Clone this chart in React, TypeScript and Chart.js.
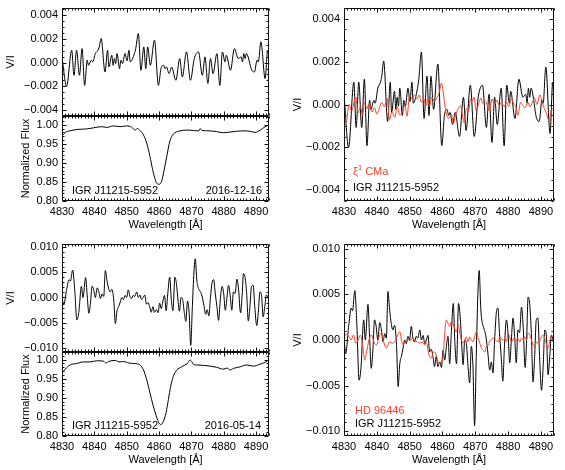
import React, { useEffect, useRef } from "react";
import { Chart, registerables } from "chart.js";
Chart.register(...registerables);

const W = 565;
const H = 470;
const FONT = '"Liberation Sans", Arial, Helvetica, sans-serif';
const FS = 11;
const RED = "#f2452f";
const BLACK = "#000000";

// ---------- axes ----------
const X_MIN = 4830;
const X_MAX = 4894;
const X_MINOR = 1;
const X_TICKS = [4830, 4840, 4850, 4860, 4870, 4880, 4890];
const VI_TOP_TICKS = [-0.004, -0.002, 0, 0.002, 0.004];
const VI_BOT_TICKS = [-0.01, -0.005, 0, 0.005, 0.01];
const FLUX_TICKS = [0.8, 0.85, 0.9, 0.95, 1.0];

// ---------- IGR J11215-5952, 2016-12-16, V/I ----------
const WL_V_1216 = [
  4830.0, 4831.4, 4833.0, 4833.7, 4834.5, 4835.4, 4836.2, 4837.0, 4837.8, 4838.2,
  4839.1, 4839.5, 4840.3, 4841.1, 4841.5, 4842.1, 4843.3, 4844.1, 4844.5, 4845.4,
  4845.8, 4846.2, 4846.6, 4847.0, 4847.8, 4848.2, 4848.7, 4849.5, 4850.1, 4850.7,
  4851.1, 4852.4, 4852.8, 4853.6, 4854.4, 4855.3, 4855.9, 4856.5, 4857.3, 4858.6,
  4859.8, 4860.6, 4861.4, 4861.9, 4862.3, 4863.1, 4863.9, 4865.2, 4866.4, 4867.2,
  4868.5, 4869.7, 4870.9, 4872.2, 4873.4, 4874.2, 4875.1, 4875.9, 4876.7, 4877.9,
  4878.8, 4879.6, 4880.4, 4880.8, 4882.1, 4883.3, 4884.5, 4885.4, 4885.8, 4886.2,
  4886.6, 4887.0, 4888.7, 4889.5, 4890.3, 4890.7, 4891.5, 4892.8, 4893.6, 4894.1,
];
const V_1216 = [
  0.00048, -0.002, 0.00104, -0.00107, 0.00104, -0.00107, 0.00118, -0.00192, 0.0002, -0.00023,
  0.0002, 0.00006, 0.00076, 0.00104, 0.0013, 0.00203, -0.00079, 0.00104, -0.00037, 0.00062,
  -0.00023, 0.00034, -0.00008, 0.00076, -0.00051, 0.0002, -0.00008, 0.00076, 0.00014, 0.00104,
  0.00006, 0.00076, 0.00118, 0.00245, -0.00065, 0.00132, -0.00051, 0.00132, -0.00023, 0.00189,
  -0.00192, -0.00051, -0.00023, -0.00051, -0.00037, -0.00093, -0.00037, -0.00149, 0.00034, -0.00121,
  0.0009, -0.00149, 0.00034, 0.0009, -0.00107, 0.00048, -0.00177, 0.00034, -0.00093, 0.00076,
  -0.00192, 0.0009, 0.00006, 0.00062, -0.00065, 0.00118, 0.00034, 0.00048, 0.00006, 0.00076,
  0.00034, 0.00076, -0.00065, -0.00079, 0.0002, 0.00006, 0.00175, -0.00135, 0.00104, 0.00006,
];

// ---------- xi1 CMa, V/I ----------
const WL_XI1CMA = [
  4830.0, 4830.7, 4831.5, 4832.3, 4833.6, 4834.3, 4835.0, 4835.6, 4836.3, 4837.0,
  4837.7, 4838.5, 4839.3, 4840.0, 4840.7, 4841.5, 4842.3, 4843.1, 4843.9, 4844.6,
  4845.5, 4846.2, 4847.0, 4847.8, 4848.6, 4849.2, 4850.0, 4850.8, 4851.5, 4852.2,
  4852.9, 4853.6, 4854.3, 4855.0, 4855.5, 4856.0, 4856.8, 4857.5, 4858.3, 4859.0,
  4859.7, 4860.3, 4860.8, 4861.3, 4862.0, 4862.7, 4863.3, 4864.0, 4864.8, 4865.5,
  4866.0, 4866.6, 4867.3, 4868.0, 4868.5, 4869.0, 4869.6, 4870.3, 4871.0, 4871.7,
  4872.3, 4873.0, 4873.7, 4874.4, 4875.1, 4875.9, 4876.6, 4877.3, 4878.0, 4878.8,
  4879.5, 4880.2, 4881.0, 4881.8, 4882.4, 4883.0, 4883.8, 4884.5, 4885.2, 4886.0,
  4886.7, 4887.4, 4888.1, 4888.8, 4889.7, 4890.4, 4891.1, 4891.9, 4892.5, 4893.2,
  4894.0,
];
const V_XI1CMA = [
  -0.0004, -0.0008, 0.0, -0.0003, 0.00035, -0.0004, -0.0001, -0.0005, 0.0001, -0.0002,
  0.00005, -0.00035, -0.00015, -0.00045, -0.0002, 0.0001, -0.0001, 0.0003, -0.0007, -0.00035,
  -0.0006, -0.0001, -0.0005, -0.00035, -0.00005, -0.00055, 0.00045, 0.00025, 0.00045, 0.00025,
  0.00045, 0.0001, 0.00025, -0.00005, 0.00025, -0.00005, 0.00035, 0.00015, 0.0003, 0.00055,
  0.001, 0.0005, -0.0001, -0.0005, -0.00065, -0.00045, -0.0009, -0.0005, -0.0002, -0.00005,
  -0.0004, -0.00085, -0.0002, -0.0003, 0.00025, 0.00015, 0.00035, -0.0003, 0.0, 0.0003,
  0.00005, 0.00015, -0.00005, -0.0003, 0.00025, 0.0, 0.0002, -0.00005, 0.0001, -0.0001,
  0.0001, -0.0001, 0.00025, 0.0, -0.0001, -0.0005, 0.0001, -0.00005, -0.00015, 0.0001,
  -0.0001, 0.0001, 0.0003, 0.0, 0.00045, 0.0001, -0.0002, -0.0005, -0.0008, -0.00025,
  -0.0002,
];

// ---------- IGR J11215-5952, 2016-05-14, V/I ----------
const WL_V_0514 = [
  4830.0, 4830.5, 4831.5, 4832.2, 4832.6, 4833.3, 4833.9, 4834.6, 4835.2, 4836.0,
  4836.5, 4837.3, 4837.8, 4838.3, 4838.8, 4839.3, 4839.8, 4840.3, 4840.9, 4841.4,
  4841.9, 4842.4, 4842.9, 4843.4, 4843.9, 4844.4, 4844.9, 4845.4, 4846.0, 4846.5,
  4847.0, 4847.5, 4848.0, 4848.5, 4849.0, 4849.5, 4850.0, 4850.5, 4851.0, 4851.5,
  4852.0, 4852.5, 4853.1, 4853.6, 4854.1, 4854.6, 4855.1, 4855.6, 4856.1, 4856.6,
  4857.1, 4857.6, 4858.1, 4858.6, 4859.2, 4859.7, 4860.2, 4860.7, 4861.2, 4861.7,
  4862.2, 4862.7, 4863.3, 4863.8, 4864.3, 4864.9, 4865.4, 4865.9, 4866.3, 4866.8,
  4867.3, 4867.8, 4868.3, 4868.8, 4869.3, 4869.8, 4870.3, 4870.8, 4871.2, 4871.7,
  4872.2, 4872.7, 4873.2, 4873.9, 4874.4, 4874.9, 4875.4, 4875.9, 4876.4, 4876.9,
  4877.4, 4877.9, 4878.4, 4878.9, 4879.5, 4880.0, 4880.5, 4881.0, 4881.5, 4882.0,
  4882.5, 4883.0, 4883.5, 4884.1, 4884.6, 4885.2, 4885.7, 4886.1, 4886.6, 4887.1,
  4887.6, 4888.1, 4888.6, 4889.1, 4889.6, 4890.2, 4890.7, 4891.2, 4891.7, 4892.2,
  4892.7, 4893.2, 4893.7, 4894.0,
];
const V_0514 = [
  0.0003, -0.0015, 0.0018, 0.0035, 0.0032, 0.0054, 0.0018, -0.0044, -0.0029, 0.0022,
  0.0, 0.0039, 0.0003, -0.0031, -0.0011, 0.0022, 0.0015, 0.0, 0.0019, 0.0011,
  -0.0002, 0.0007, 0.0002, 0.0053, 0.0033, 0.0018, 0.0011, 0.0016, -0.0005, -0.0051,
  -0.0026, -0.0018, -0.0009, 0.0, -0.0004, 0.0004, 0.0, 0.0015, 0.0002, -0.0002,
  0.0004, 0.0002, 0.0011, 0.0, 0.0005, -0.0004, 0.0, 0.0005, -0.0013, -0.001,
  -0.0018, -0.0029, -0.0018, -0.0029, -0.0024, -0.003, -0.0011, -0.0022, -0.0007, 0.0004,
  -0.0026, 0.0007, 0.004, -0.0004, -0.0026, 0.004, 0.0026, -0.0007, -0.0027, 0.0,
  -0.0004, -0.0029, -0.0047, -0.0007, -0.0029, -0.0094, -0.0018, 0.005, 0.0076, 0.0033,
  0.0018, 0.0012, 0.0005, -0.0016, -0.0033, -0.0024, -0.0036, 0.0, 0.0029, 0.0035,
  0.0007, -0.0018, -0.0045, -0.0007, 0.0022, 0.0007, -0.0025, 0.0, 0.0024, 0.0004,
  -0.0025, 0.0011, 0.0008, 0.0036, 0.0015, -0.003, 0.0005, 0.0047, 0.0039, 0.0007,
  -0.0046, -0.0018, 0.0022, 0.0024, -0.0018, -0.0055, -0.0029, 0.0011, 0.0004, -0.0038,
  -0.0018, 0.0005, 0.0, -0.0007,
];

// ---------- HD 96446, V/I ----------
const WL_HD96446 = [
  4830.0, 4830.7, 4831.5, 4832.2, 4832.9, 4833.6, 4834.3, 4835.0, 4835.8, 4836.3,
  4836.8, 4837.6, 4838.3, 4839.3, 4839.9, 4840.7, 4841.4, 4842.1, 4842.9, 4843.9,
  4844.7, 4845.4, 4846.2, 4847.0, 4847.5, 4848.0, 4848.8, 4849.5, 4850.1, 4850.8,
  4851.5, 4852.3, 4853.1, 4853.8, 4854.6, 4855.1, 4855.9, 4856.6, 4857.1, 4857.6,
  4858.2, 4858.7, 4859.2, 4859.7, 4860.2, 4860.7, 4861.2, 4861.7, 4862.2, 4862.7,
  4863.2, 4863.7, 4864.2, 4864.8, 4865.3, 4865.8, 4866.3, 4866.8, 4867.3, 4867.8,
  4868.3, 4868.8, 4869.3, 4869.8, 4870.3, 4870.9, 4871.4, 4871.9, 4872.4, 4872.9,
  4873.4, 4873.9, 4874.4, 4875.4, 4876.2, 4877.0, 4877.5, 4878.3, 4879.0, 4879.5,
  4880.0, 4880.5, 4881.0, 4881.8, 4882.5, 4883.0, 4883.6, 4884.1, 4884.6, 4885.1,
  4885.6, 4886.1, 4886.6, 4887.1, 4888.1, 4888.7, 4889.2, 4890.2, 4890.7, 4891.3,
  4892.2, 4892.7, 4893.2, 4894.0,
];
const V_HD96446 = [
  0.0002, 0.00065, 0.00035, 0.0, 0.00055, -0.00035, 0.0, 0.00055, -0.0009, -0.0022,
  -0.00145, 0.0, 0.00055, -0.00035, -0.00055, 0.00035, 0.00075, -0.0002, -0.0009, -0.0002,
  -0.00035, -0.0002, 0.00035, 0.0009, 0.0, -0.00055, 0.0, 0.0001, -0.0001, 0.0002,
  -0.00005, -0.0002, -0.00035, -0.00025, -0.00055, -0.0003, -0.00165, -0.002, -0.00145, -0.0013,
  -0.0018, -0.00235, -0.00255, -0.00235, -0.0018, 0.00075, 0.0022, 0.0018, 0.00145, 0.002,
  0.0018, 0.0013, 0.0009, 0.00165, 0.00075, 0.0, -0.00035, 0.0, 0.00035, -0.0002,
  0.00035, 0.0, -0.0002, 0.00035, 0.0009, 0.0002, -0.00035, -0.0009, -0.0011, -0.0013,
  -0.00075, -0.00055, -0.0002, 0.0002, 0.0, -0.0002, 0.00035, 0.0, 0.0002, -0.0002,
  0.00075, 0.00035, -0.0002, 0.0002, -0.0001, 0.0002, -0.0002, 0.0002, 0.0, 0.00035,
  0.0, 0.00075, 0.00055, 0.0, -0.00075, -0.0002, -0.00035, 0.00035, 0.00055, 0.0,
  -0.0009, -0.0002, 0.00055, 0.0002,
];

// ---------- Normalized flux ----------
const WL_F_1216 = [
  4830, 4831, 4832.5, 4835, 4837.6, 4839.7, 4842.3, 4843.8, 4845.9, 4848,
  4850, 4851.5, 4852.6, 4853.3, 4854.1, 4855.2, 4856.2, 4857.2, 4858.0, 4858.8,
  4859.3, 4860.1, 4860.8, 4861.5, 4862.4, 4863.2, 4863.9, 4864.9, 4866.5, 4868.6,
  4870.7, 4872.3, 4872.7, 4873.3, 4875.5, 4877.8, 4879.9, 4882, 4884, 4886,
  4888, 4889.7, 4891.3, 4892.8, 4894,
];
const F_1216 = [
  0.971, 0.98, 0.984, 0.988, 0.989, 0.992, 0.995, 0.993, 0.997, 0.995,
  0.997, 0.994, 0.986, 0.99, 0.985, 0.973, 0.952, 0.917, 0.883, 0.857,
  0.846, 0.844, 0.852, 0.878, 0.917, 0.952, 0.969, 0.979, 0.984, 0.986,
  0.985, 0.984, 0.99, 0.985, 0.984, 0.982, 0.979, 0.981, 0.983, 0.984,
  0.983, 0.98, 0.986, 0.995, 0.999,
];
const WL_F_0514 = [
  4830, 4831, 4832.5, 4834.6, 4836.6, 4838.7, 4840.7, 4842.8, 4843.6, 4844.4,
  4846.5, 4847.6, 4849.1, 4850.7, 4852.2, 4854.1, 4855.2, 4856.2, 4857.2, 4858.2,
  4859.1, 4859.8, 4860.5, 4861.3, 4862.2, 4862.9, 4863.6, 4864.4, 4865.5, 4867.0,
  4868.0, 4868.8, 4869.6, 4870.1, 4870.6, 4871.6, 4873.7, 4875.8, 4877.8, 4879.9,
  4881.0, 4882.0, 4883.0, 4885.0, 4887.1, 4889.2, 4891.2, 4892.8, 4894,
];
const F_0514 = [
  0.964, 0.975, 0.986, 0.99, 0.994, 0.994, 0.997, 0.996, 0.991, 0.995,
  0.998, 0.994, 0.995, 0.991, 0.99, 0.986, 0.973, 0.947, 0.913, 0.879,
  0.854, 0.837, 0.83, 0.837, 0.862, 0.896, 0.93, 0.956, 0.973, 0.981,
  0.986, 0.99, 0.999, 0.995, 0.988, 0.986, 0.985, 0.983, 0.98, 0.975,
  0.978, 0.973, 0.977, 0.981, 0.986, 0.983, 0.988, 0.993, 1.0,
];

// ---------- panel description ----------
type Series = { xs: number[]; ys: number[]; color: string };
type Part = { t: string; sup?: boolean };
type Label = { parts: Part[]; x: number; y: number; color: string; align: "left" | "right" };
type PanelCfg = {
  box: [number, number, number, number];
  yMin: number;
  yMax: number;
  yTicks: number[];
  yMinor: number;
  yDec: number;
  xLabels: boolean;
  yTitle: string;
  yTitleX: number;
  series: Series[];
  labels: Label[];
};

const MAJ = 4;
const MIN = 2;

function fmt(v: number, dec: number) {
  const s = Math.abs(v) < 1e-12 ? (0).toFixed(dec) : v.toFixed(dec);
  return s.replace("-", "\u2212");
}

function drawParts(ctx: CanvasRenderingContext2D, lab: Label) {
  const widths = lab.parts.map((p) => {
    ctx.font = `${p.sup ? 7.5 : FS}px ${FONT}`;
    return ctx.measureText(p.t).width;
  });
  const total = widths.reduce((a, b) => a + b, 0);
  let x = lab.align === "left" ? lab.x : lab.x - total;
  ctx.fillStyle = lab.color;
  ctx.textAlign = "left";
  ctx.textBaseline = "middle";
  lab.parts.forEach((p, i) => {
    ctx.font = `${p.sup ? 7.5 : FS}px ${FONT}`;
    ctx.fillText(p.t, x, lab.y + (p.sup ? -4 : 0));
    x += widths[i];
  });
}

function drawFrame(chart: any, cfg: PanelCfg) {
  const { ctx, chartArea: a } = chart;
  const xs = chart.scales.x;
  const ys = chart.scales.y;
  ctx.save();
  ctx.strokeStyle = "#111";
  ctx.lineWidth = 1;
  const L = Math.round(a.left) + 0.5;
  const R = Math.round(a.right) - 0.5;
  const T = Math.round(a.top) + 0.5;
  const B = Math.round(a.bottom) - 0.5;
  ctx.beginPath();
  ctx.rect(L, T, R - L, B - T);
  for (let v = X_MIN; v <= X_MAX + 1e-9; v += X_MINOR) {
    const px = Math.round(xs.getPixelForValue(v)) + 0.5;
    const len = X_TICKS.includes(v) ? MAJ : MIN;
    ctx.moveTo(px, B);
    ctx.lineTo(px, B - len);
    ctx.moveTo(px, T);
    ctx.lineTo(px, T + len);
  }
  const k0 = Math.ceil(cfg.yMin / cfg.yMinor - 1e-6);
  const k1 = Math.floor(cfg.yMax / cfg.yMinor + 1e-6);
  for (let k = k0; k <= k1; k++) {
    const v = k * cfg.yMinor;
    const py = Math.round(ys.getPixelForValue(v)) + 0.5;
    const major = cfg.yTicks.some((t) => Math.abs(t - v) < cfg.yMinor * 0.01);
    const len = major ? MAJ : MIN;
    ctx.moveTo(L, py);
    ctx.lineTo(L + len, py);
    ctx.moveTo(R, py);
    ctx.lineTo(R - len, py);
  }
  ctx.stroke();

  ctx.fillStyle = BLACK;
  ctx.font = `${FS}px ${FONT}`;
  ctx.textAlign = "right";
  ctx.textBaseline = "middle";
  cfg.yTicks.forEach((v) => {
    ctx.fillText(fmt(v, cfg.yDec), a.left - 4, ys.getPixelForValue(v));
  });
  if (cfg.xLabels) {
    ctx.textAlign = "center";
    X_TICKS.forEach((v) => {
      ctx.fillText(String(v), xs.getPixelForValue(v), a.bottom + 11);
    });
    ctx.fillText("Wavelength [\u00c5]", (a.left + a.right) / 2, a.bottom + 24);
  }
  ctx.save();
  ctx.translate(cfg.yTitleX, (a.top + a.bottom) / 2);
  ctx.rotate(-Math.PI / 2);
  ctx.textAlign = "center";
  ctx.fillText(cfg.yTitle, 0, 0);
  ctx.restore();

  cfg.labels.forEach((lab) => drawParts(ctx, lab));
  ctx.restore();
}

function Panel({ cfg }: { cfg: PanelCfg }) {
  const ref = useRef<HTMLCanvasElement>(null);
  useEffect(() => {
    const [l, t, r, b] = cfg.box;
    const chart = new Chart(ref.current as HTMLCanvasElement, {
      type: "line",
      data: {
        datasets: cfg.series.map((s) => ({
          data: s.xs.map((x, i) => ({ x, y: s.ys[i] })),
          borderColor: s.color,
          borderWidth: 1,
          pointRadius: 0,
          fill: false,
          cubicInterpolationMode: "monotone" as const,
        })),
      },
      options: {
        animation: false,
        responsive: false,
        devicePixelRatio: 1,
        events: [],
        layout: { padding: { left: l, top: t, right: W - r, bottom: H - b } },
        plugins: { legend: { display: false }, tooltip: { enabled: false } },
        scales: {
          x: { type: "linear", display: false, min: X_MIN, max: X_MAX },
          y: { type: "linear", display: false, min: cfg.yMin, max: cfg.yMax },
        },
      },
      plugins: [{ id: "idlFrame", afterDatasetsDraw: (c: any) => drawFrame(c, cfg) }],
    });
    return () => chart.destroy();
  }, [cfg]);
  return (
    <canvas
      ref={ref}
      width={W}
      height={H}
      style={{ position: "absolute", left: 0, top: 0, width: W, height: H }}
    />
  );
}

const IGR = "IGR J11215-5952";

const PANELS: PanelCfg[] = [
  {
    box: [62, 8, 269, 116],
    yMin: -0.0045,
    yMax: 0.0046,
    yTicks: VI_TOP_TICKS,
    yMinor: 0.0005,
    yDec: 3,
    xLabels: false,
    yTitle: "V/I",
    yTitleX: 11,
    series: [{ xs: WL_V_1216, ys: V_1216, color: BLACK }],
    labels: [],
  },
  {
    box: [62, 116, 269, 201],
    yMin: 0.8,
    yMax: 1.023,
    yTicks: FLUX_TICKS,
    yMinor: 0.01,
    yDec: 2,
    xLabels: true,
    yTitle: "Normalized Flux",
    yTitleX: 26,
    series: [{ xs: WL_F_1216, ys: F_1216, color: BLACK }],
    labels: [
      { parts: [{ t: IGR }], x: 72, y: 191, color: BLACK, align: "left" },
      { parts: [{ t: "2016-12-16" }], x: 262, y: 191, color: BLACK, align: "right" },
    ],
  },
  {
    box: [344, 8, 554, 201],
    yMin: -0.0045,
    yMax: 0.0045,
    yTicks: VI_TOP_TICKS,
    yMinor: 0.0005,
    yDec: 3,
    xLabels: true,
    yTitle: "V/I",
    yTitleX: 298,
    series: [
      { xs: WL_XI1CMA, ys: V_XI1CMA, color: RED },
      { xs: WL_V_1216, ys: V_1216, color: BLACK },
    ],
    labels: [
      { parts: [{ t: "\u03be" }, { t: "1", sup: true }, { t: " CMa" }], x: 353, y: 172, color: RED, align: "left" },
      { parts: [{ t: IGR }], x: 353, y: 188, color: BLACK, align: "left" },
    ],
  },
  {
    box: [62, 244, 269, 352],
    yMin: -0.0107,
    yMax: 0.0105,
    yTicks: VI_BOT_TICKS,
    yMinor: 0.001,
    yDec: 3,
    xLabels: false,
    yTitle: "V/I",
    yTitleX: 11,
    series: [{ xs: WL_V_0514, ys: V_0514, color: BLACK }],
    labels: [],
  },
  {
    box: [62, 352, 269, 436],
    yMin: 0.8,
    yMax: 1.02,
    yTicks: FLUX_TICKS,
    yMinor: 0.01,
    yDec: 2,
    xLabels: true,
    yTitle: "Normalized Flux",
    yTitleX: 26,
    series: [{ xs: WL_F_0514, ys: F_0514, color: BLACK }],
    labels: [
      { parts: [{ t: IGR }], x: 72, y: 426, color: BLACK, align: "left" },
      { parts: [{ t: "2016-05-14" }], x: 261, y: 426, color: BLACK, align: "right" },
    ],
  },
  {
    box: [344, 244, 554, 436],
    yMin: -0.0105,
    yMax: 0.0105,
    yTicks: VI_BOT_TICKS,
    yMinor: 0.001,
    yDec: 3,
    xLabels: true,
    yTitle: "V/I",
    yTitleX: 298,
    series: [
      { xs: WL_HD96446, ys: V_HD96446, color: RED },
      { xs: WL_V_0514, ys: V_0514, color: BLACK },
    ],
    labels: [
      { parts: [{ t: "HD 96446" }], x: 355, y: 411, color: RED, align: "left" },
      { parts: [{ t: IGR }], x: 355, y: 423.5, color: BLACK, align: "left" },
    ],
  },
];

export default function App() {
  return (
    <div
      style={{
        position: "absolute",
        left: 0,
        top: 0,
        width: W,
        height: H,
        background: "#fff",
        overflow: "hidden",
      }}
    >
      {PANELS.map((cfg, i) => (
        <Panel key={i} cfg={cfg} />
      ))}
    </div>
  );
}
